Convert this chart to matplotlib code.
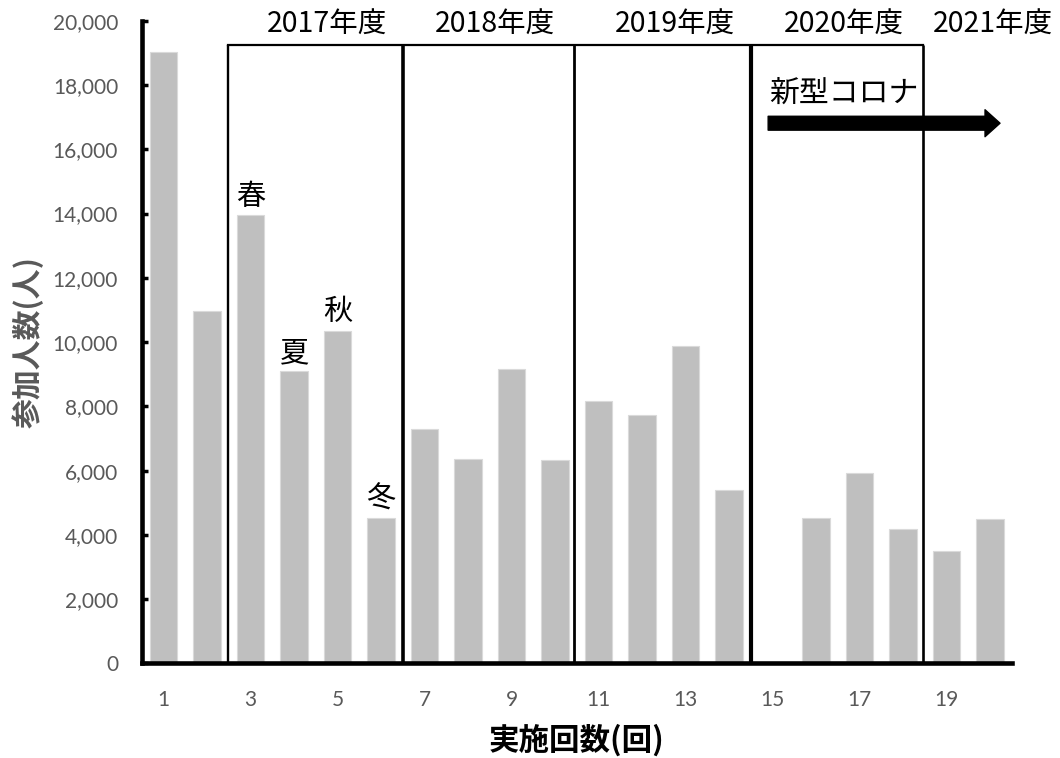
import matplotlib
matplotlib.use("Agg")
import matplotlib.pyplot as plt
from matplotlib.ticker import FuncFormatter

plt.rcParams['font.family'] = ['Noto Sans CJK JP', 'DejaVu Sans']

# ---- data ----
rounds = list(range(1, 21))
participants = [19030, 10960, 13950, 9090, 10360, 4520, 7300, 6370, 9170, 6330,
                8180, 7720, 9890, 5400, 0, 4520, 5930, 4180, 3500, 4490]
season_rounds = [3, 4, 5, 6]
season_labels = ['春', '夏', '秋', '冬']
year_labels = ['2017年度', '2018年度', '2019年度', '2020年度', '2021年度']
year_label_x = [4.76, 8.62, 12.76, 16.64, 20.06]
year_bounds = [2.48, 6.5, 10.44, 14.5, 18.45]
year_bound_lw = [1.7, 2.6, 2.0, 3.0, 1.9]
xtick_positions = list(range(1, 21, 2))

GRAY = '#595959'
BAR = '#BFBFBF'

fig = plt.figure(figsize=(10.6, 7.58), dpi=100)
ax = fig.add_axes([0.1337, 0.1247, 0.8208, 0.848])

ax.bar(rounds, participants, width=0.63, color=BAR, edgecolor='#DADADA', linewidth=0.8, zorder=2)

ax.set_xlim(0.5, 20.5)
ax.set_ylim(0, 20000)
ax.set_yticks(range(0, 20001, 2000))
ax.yaxis.set_major_formatter(FuncFormatter(lambda v, p: f'{int(v):,}'))
ax.set_xticks(xtick_positions)
ax.set_xticklabels([str(v) for v in xtick_positions])

for s in ['top', 'right']:
    ax.spines[s].set_visible(False)
for s in ['left', 'bottom']:
    ax.spines[s].set_linewidth(3.3)
    ax.spines[s].set_color('black')
    ax.spines[s].set_zorder(5)

ax.tick_params(axis='y', direction='in', length=4, width=2.5, color='black',
               labelsize=15, labelcolor=GRAY, pad=17)
ax.tick_params(axis='x', length=0, labelsize=15, labelcolor=GRAY, pad=19)
for lab in ax.get_xticklabels() + ax.get_yticklabels():
    lab.set_fontfamily(['Lato', 'DejaVu Sans'])

ax.set_xlabel('実施回数(回)', fontsize=22, fontweight='bold', color='black')
ax.set_ylabel('参加人数(人)', fontsize=21.5, fontweight='bold', color=GRAY)
ax.xaxis.set_label_coords(0.5, -0.119, transform=ax.transAxes)
ax.yaxis.set_label_coords(-0.1307, 0.5, transform=ax.transAxes)
ax.xaxis.label.set_verticalalignment('center')
ax.yaxis.label.set_verticalalignment('center')

# year boxes
box_top = 19250
for xb, lw in zip(year_bounds, year_bound_lw):
    ax.plot([xb, xb], [0, box_top], color='black', lw=lw, zorder=3, solid_capstyle='butt')
ax.plot([year_bounds[0], year_bounds[-1]], [box_top, box_top], color='black', lw=1.6, zorder=3)

for lab, xl in zip(year_labels, year_label_x):
    ax.text(xl, 19880, lab, ha='center', va='center', fontsize=20.5, color='black')

# season labels
for r, lab in zip(season_rounds, season_labels):
    ax.annotate(lab, xy=(r, participants[r - 1]), xytext=(0, 13), textcoords='offset points',
                ha='center', va='center', fontsize=21, color='black')

# covid arrow
ax.text(14.93, 17740, '新型コロナ', ha='left', va='center', fontsize=21.5, color='black')
ax.annotate('', xy=(20.23, 16810), xytext=(14.9, 16810),
            arrowprops=dict(arrowstyle='simple,head_length=0.54,head_width=0.97,tail_width=0.5',
                            mutation_scale=20, color='black', shrinkA=0, shrinkB=0), zorder=4)

fig.savefig('out.png', dpi=100)
